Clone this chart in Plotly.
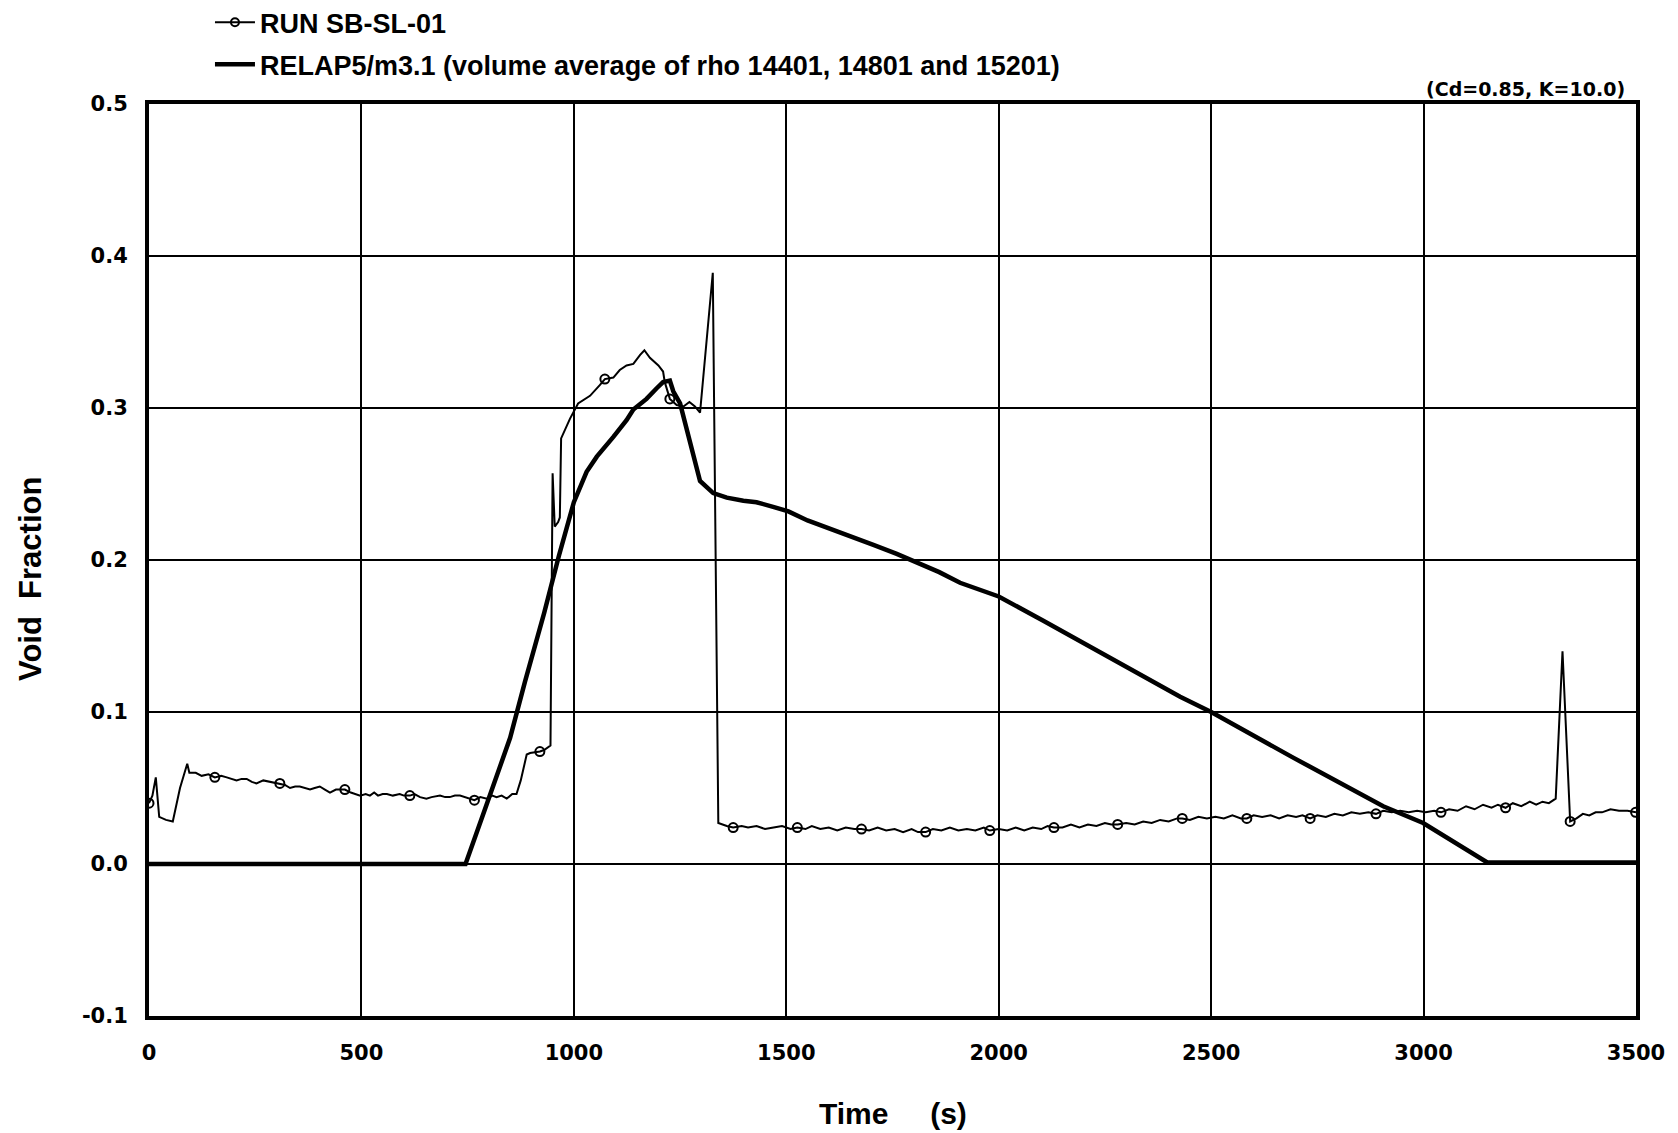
import plotly.graph_objects as go

# ---------------- data ----------------
run_t = [0, 8, 16, 24, 40, 56, 73, 90, 95, 110, 124, 140, 155, 170, 183, 195, 206, 218, 230, 242,
         253, 269, 285, 308, 320, 332, 344, 355, 367, 379, 390, 402, 414, 426, 440, 461, 475, 497,
         510, 520, 530, 539, 550, 560, 574, 590, 600, 614, 625, 638, 653, 665, 685, 697, 708, 720,
         732, 745, 766, 780, 795, 808, 818, 830, 842, 855, 865, 875, 889, 897, 920, 930, 940, 945,
         950, 955, 963, 967, 970, 991, 1010, 1038, 1061, 1073, 1093, 1108, 1124, 1140, 1156, 1166,
         1179, 1199, 1210, 1214, 1226, 1242, 1258, 1272, 1285, 1297, 1327, 1340,
         1360, 1375, 1395, 1410, 1430, 1450, 1470, 1490, 1510, 1526, 1545, 1560, 1580, 1600, 1620,
         1640, 1660, 1677, 1695, 1715, 1735, 1755, 1775, 1795, 1810, 1828, 1845, 1865, 1885, 1905,
         1925, 1945, 1965, 1979, 2000, 2020, 2040, 2060, 2080, 2100, 2115, 2130, 2150, 2170, 2190,
         2210, 2230, 2250, 2265, 2280, 2300, 2320, 2340, 2360, 2380, 2400, 2420, 2432, 2450, 2470,
         2490, 2510, 2530, 2550, 2570, 2584, 2600, 2620, 2640, 2660, 2680, 2700, 2715, 2733, 2750,
         2770, 2790, 2810, 2830, 2850, 2870, 2888, 2905, 2925, 2945, 2965, 2985, 3005, 3025, 3041,
         3060, 3080, 3100, 3120, 3140, 3160, 3175, 3193, 3210, 3230, 3250, 3265, 3280, 3295, 3311,
         3327, 3345, 3360, 3375, 3390, 3405, 3420, 3440, 3460, 3480, 3500]
run_v = [0.040, 0.045, 0.057, 0.031, 0.029, 0.028, 0.050, 0.066, 0.060, 0.060, 0.058, 0.059, 0.057,
         0.058, 0.057, 0.056, 0.055, 0.056, 0.056, 0.054, 0.053, 0.055, 0.054, 0.053, 0.052, 0.050,
         0.051, 0.051, 0.050, 0.049, 0.050, 0.051, 0.049, 0.047, 0.049, 0.049, 0.047, 0.045, 0.046,
         0.045, 0.047, 0.045, 0.046, 0.046, 0.045, 0.046, 0.045, 0.045, 0.046, 0.044, 0.043, 0.044,
         0.045, 0.044, 0.044, 0.045, 0.045, 0.044, 0.042, 0.044, 0.043, 0.045, 0.044, 0.045, 0.043,
         0.046, 0.046, 0.055, 0.072, 0.073, 0.074, 0.075, 0.077, 0.078,
         0.257, 0.222, 0.225, 0.228, 0.280, 0.293, 0.303, 0.308, 0.315, 0.319, 0.320, 0.325, 0.328,
         0.329, 0.335, 0.338, 0.333, 0.328, 0.324, 0.317, 0.306, 0.302, 0.301, 0.304, 0.301, 0.297,
         0.389, 0.027,
         0.025, 0.024, 0.025, 0.024, 0.025, 0.023, 0.024, 0.025, 0.023, 0.024, 0.023, 0.025, 0.023,
         0.024, 0.022, 0.024, 0.023, 0.023, 0.022, 0.024, 0.022, 0.023, 0.021, 0.023, 0.021, 0.021,
         0.023, 0.022, 0.024, 0.022, 0.023, 0.022, 0.024, 0.022, 0.023, 0.022, 0.024, 0.022, 0.024,
         0.023, 0.025, 0.024, 0.024, 0.026, 0.024, 0.026, 0.025, 0.027, 0.026, 0.026, 0.027, 0.026,
         0.028, 0.027, 0.029, 0.028, 0.030, 0.030, 0.029, 0.031, 0.030, 0.031, 0.030, 0.032, 0.030,
         0.030, 0.032, 0.031, 0.032, 0.030, 0.032, 0.031, 0.032, 0.030, 0.032, 0.031, 0.033, 0.032,
         0.034, 0.033, 0.034, 0.033, 0.035, 0.034, 0.035, 0.034, 0.035, 0.034, 0.035, 0.034, 0.036,
         0.035, 0.038, 0.036, 0.039, 0.037, 0.039, 0.037, 0.040, 0.038, 0.041, 0.039, 0.041, 0.040,
         0.043, 0.140, 0.028, 0.030, 0.033, 0.032, 0.034, 0.034, 0.036, 0.035, 0.035, 0.034]

# circle markers placed along the measured curve
run_mark_t = [0, 155, 308, 461, 614, 766, 920, 1073, 1226, 1375, 1526, 1677, 1828, 1979, 2130,
              2280, 2432, 2584, 2733, 2888, 3041, 3193, 3345, 3499]
run_mark_v = [0.040, 0.057, 0.053, 0.049, 0.045, 0.042, 0.074, 0.319, 0.306, 0.024, 0.024, 0.023,
              0.021, 0.022, 0.024, 0.026, 0.030, 0.030, 0.030, 0.033, 0.034, 0.037, 0.028, 0.034]

relap_t = [0, 745, 787, 818, 850, 885, 930, 965, 1000, 1030, 1054, 1093, 1124, 1140, 1171, 1195,
           1210, 1226, 1234, 1250, 1265, 1277, 1297, 1328, 1360, 1399, 1430, 1469, 1505, 1550,
           1611, 1660, 1705, 1760, 1810, 1860, 1909, 1960, 2000, 2105, 2238, 2427, 2500, 2693,
           2905, 2999, 3150, 3500]
relap_v = [0.0, 0.0, 0.033, 0.057, 0.083, 0.120, 0.165, 0.203, 0.238, 0.258, 0.268, 0.281, 0.292,
           0.299, 0.306, 0.313, 0.317, 0.318, 0.311, 0.303, 0.287, 0.274, 0.252, 0.244, 0.241,
           0.239, 0.238, 0.235, 0.232, 0.226, 0.220, 0.215, 0.210, 0.204, 0.198, 0.192, 0.185,
           0.180, 0.176, 0.160, 0.139, 0.110, 0.100, 0.070, 0.038, 0.027, 0.001, 0.001]

x_ticks = [0, 500, 1000, 1500, 2000, 2500, 3000, 3500]
y_ticks = [-0.1, 0.0, 0.1, 0.2, 0.3, 0.4, 0.5]

run_name = "RUN SB-SL-01"
relap_name = "RELAP5/m3.1 (volume average of rho 14401, 14801 and 15201)"
note = "(Cd=0.85, K=10.0)"
x_title = "Time&nbsp;&nbsp;&nbsp;&nbsp;&nbsp;(s)"
y_title = "Void&nbsp;&nbsp;Fraction"

FONT = "Liberation Sans, Arial, Helvetica, sans-serif"
TICKFONT = "DejaVu Sans, Verdana, sans-serif"

fig = go.Figure()
fig.add_trace(go.Scatter(x=run_t, y=run_v, mode="lines",
                         line=dict(color="black", width=2), showlegend=False,
                         legendgroup="run", hoverinfo="skip"))
fig.add_trace(go.Scatter(x=run_mark_t, y=run_mark_v, mode="markers",
                         marker=dict(symbol="circle-open", size=9, color="black",
                                     line=dict(width=2, color="black")),
                         legendgroup="run", showlegend=False))
# legend entry for measured data (line + circle)
fig.add_trace(go.Scatter(x=[None], y=[None], mode="lines+markers", name=run_name,
                         legendgroup="run",
                         line=dict(color="black", width=2),
                         marker=dict(symbol="circle-open", size=8, color="black",
                                     line=dict(width=2, color="black"))))
fig.add_trace(go.Scatter(x=relap_t, y=relap_v, mode="lines", name=relap_name,
                         legendgroup="relap",
                         line=dict(color="black", width=4.5)))

fig.update_layout(
    width=1670, height=1125,
    margin=dict(l=141, r=42, t=96, b=117, autoexpand=False),
    paper_bgcolor="white", plot_bgcolor="white",
    font=dict(family=FONT, color="black", size=20),
    legend=dict(x=0.041, y=1.116, xanchor="left", yanchor="top",
                bgcolor="rgba(0,0,0,0)",
                font=dict(size=27, family=FONT, weight="bold"),
                tracegroupgap=4, itemwidth=40),
    showlegend=True,
)
fig.update_xaxes(range=[0, 3500], tickvals=x_ticks, ticktext=[str(v) for v in x_ticks],
                 showgrid=True, gridcolor="black", gridwidth=2,
                 zeroline=False, showline=True, linecolor="black", linewidth=4, mirror=True,
                 ticks="", tickfont=dict(size=21, family=TICKFONT, weight="bold"),
                 ticklabelstandoff=15)
fig.update_yaxes(range=[-0.1, 0.5], tickvals=y_ticks, ticktext=[f"{v:.1f}" for v in y_ticks],
                 showgrid=True, gridcolor="black", gridwidth=2,
                 zeroline=True, zerolinecolor="black", zerolinewidth=2,
                 showline=True, linecolor="black", linewidth=4, mirror=True,
                 ticks="", tickfont=dict(size=21, family=TICKFONT, weight="bold"),
                 ticklabelstandoff=13)
fig.add_annotation(text="<b>" + note + "</b>", xref="paper", yref="paper",
                   x=0.994, y=1.0, xanchor="right", yanchor="middle", yshift=15,
                   showarrow=False, font=dict(size=19, family=TICKFONT))
fig.add_annotation(text="<b>" + x_title + "</b>", xref="paper", yref="paper",
                   x=0.5, y=0.0, xanchor="center", yanchor="middle", yshift=-97,
                   showarrow=False, font=dict(size=30, family=FONT))
fig.add_annotation(text="<b>" + y_title + "</b>", xref="paper", yref="paper",
                   x=0.0, y=0.5, xanchor="center", yanchor="middle",
                   xshift=-119, yshift=-19, textangle=-90,
                   showarrow=False, font=dict(size=31, family=FONT))

fig.write_html("out.html")
